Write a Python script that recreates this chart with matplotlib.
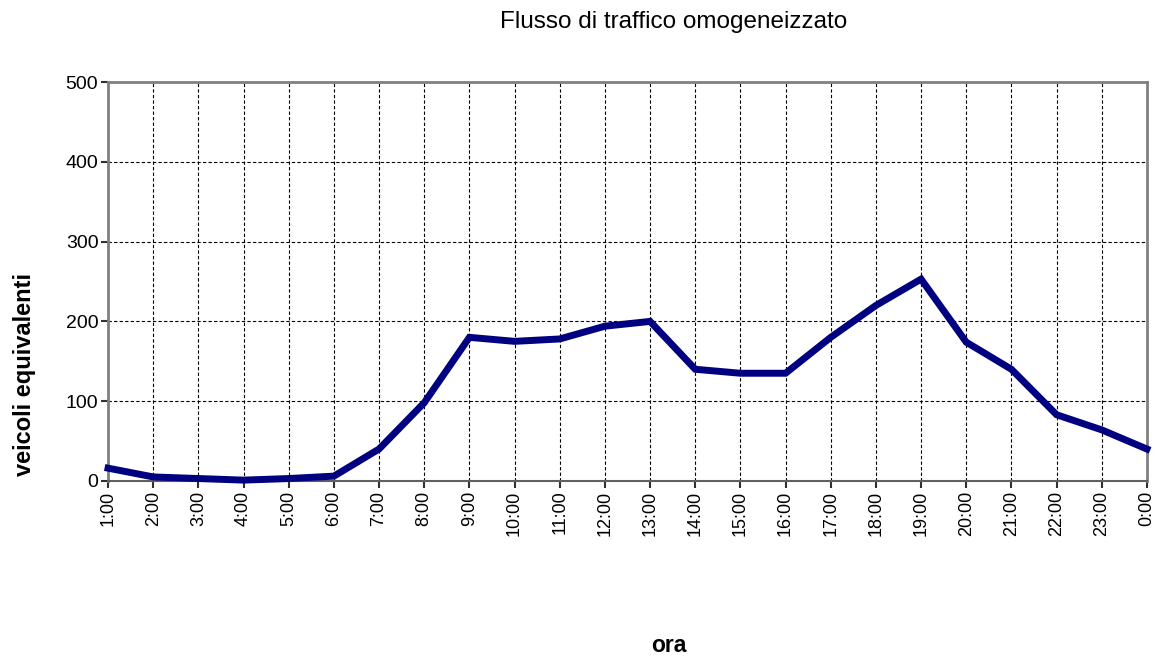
import matplotlib
matplotlib.use("Agg")
import matplotlib.pyplot as plt

hours = ["1:00", "2:00", "3:00", "4:00", "5:00", "6:00", "7:00", "8:00", "9:00",
         "10:00", "11:00", "12:00", "13:00", "14:00", "15:00", "16:00", "17:00",
         "18:00", "19:00", "20:00", "21:00", "22:00", "23:00", "0:00"]
flow = [16, 5, 3, 1, 3, 6, 40, 98, 180, 175, 178, 194, 200, 140, 135, 135,
        180, 220, 253, 174, 140, 83, 64, 40]
y_ticks = [0, 100, 200, 300, 400, 500]

plt.rcParams['font.family'] = ['Liberation Sans', 'DejaVu Sans']

fig = plt.figure(figsize=(11.62, 6.57), dpi=100)
ax = fig.add_axes([0.093, 0.268, 0.894, 0.607])

x = list(range(len(hours)))
ax.plot(x, flow, color='#000080', linewidth=5, solid_joinstyle='miter', zorder=3, clip_on=False)

ax.set_xlim(0, len(hours) - 1)
ax.set_ylim(0, 500)
ax.set_xticks(x)
ax.set_xticklabels(hours, rotation=90, fontsize=13)
ax.set_yticks(y_ticks)
ax.set_yticklabels([str(v) for v in y_ticks], fontsize=14)

ax.grid(True, which='major', axis='both', color='black', linestyle=(0, (3, 2)), linewidth=0.8, zorder=1)

for s in ['top', 'right', 'left']:
    ax.spines[s].set_color('#808080')
    ax.spines[s].set_linewidth(2)
ax.spines['bottom'].set_color('#606060')
ax.spines['bottom'].set_linewidth(1.5)
ax.tick_params(axis='both', direction='out', length=5, width=1.5, color='#303030', pad=2)

fig.text(25 / 1162, 1 - 375 / 657, "veicoli equivalenti", rotation=90, ha='center', va='center',
         fontsize=17, fontweight='bold')
fig.text(674 / 1162, 1 - 22 / 657, "Flusso di traffico omogeneizzato", ha='center', va='center', fontsize=17.5)
fig.text(669 / 1162, 1 - 645 / 657, "ora", ha='center', va='center', fontsize=16.5, fontweight='bold')

fig.savefig("out.png", dpi=100)
